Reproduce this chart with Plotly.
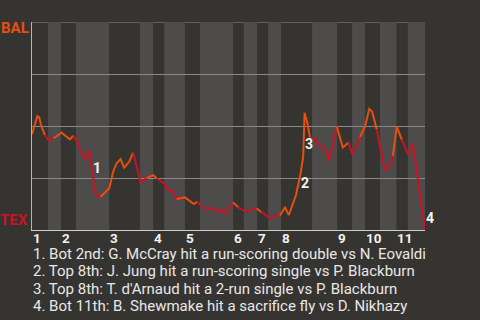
import plotly.graph_objects as go

# ---- data ----
play_x = [0, 1.5, 2.0, 2.6, 3.6, 4.8, 6.0, 8.3, 10.6, 11.6, 12.5, 13.9, 15.0, 16.0, 16.7,
          17.9, 19.2, 21.6, 22.8, 23.7, 24.8, 25.8, 27.2, 28.3, 30.4, 32.1, 33.9, 34.9,
          37.2, 38.2, 39.4, 40.5, 42.8, 44.2, 45.3, 46.3, 48.1, 50.7, 51.9, 52.9, 54.1,
          56.2, 57.7, 59.6, 62.9, 64.1, 66.6, 69.4, 70.8, 71.9, 73.9, 75.2, 75.9, 76.3,
          77.1, 77.8, 79.6, 80.8, 81.9, 83.1, 85.3, 87.0, 88.6, 89.7, 91.8, 93.2, 94.4,
          95.2, 96.5, 98.7, 99.9, 101.0, 102.1, 103.5, 105.3, 106.6, 107.8, 110.0]
bal_wp = [46.0, 54.8, 54.2, 50.0, 45.7, 42.8, 44.1, 46.8, 43.6, 45.3, 42.9, 36.9, 34.1, 38.5,
          30.4, 16.3, 16.0, 20.0, 28.5, 32.1, 34.1, 30.0, 32.8, 37.2, 22.9, 24.9, 26.4, 24.9,
          22.0, 18.9, 18.9, 14.9, 15.7, 13.9, 12.5, 13.6, 10.4, 10.3, 8.4, 10.0, 7.7,
          13.2, 11.1, 8.8, 10.5, 8.7, 5.8, 7.0, 10.8, 7.2, 16.8, 27.4, 35.2, 56.4,
          51.2, 44.5, 43.3, 39.6, 39.4, 33.2, 49.8, 39.7, 42.1, 36.1, 44.7, 49.7, 58.2,
          57.0, 48.3, 29.1, 29.8, 35.6, 49.7, 43.4, 36.1, 41.4, 26.4, 0.0]

# start of each half-inning (top, bottom, top, bottom, ...) and the end of the game
half_starts = [0, 4.5, 8.1, 12.3, 21.6, 30.2, 33.9, 37.0, 42.8, 47.0, 56.3, 59.3,
               63.0, 66.1, 69.7, 78.4, 85.4, 89.6, 93.2, 97.4, 102.0, 105.2]
game_end = 110.0
innings = ["1", "2", "3", "4", "5", "6", "7", "8", "9", "10", "11"]

event_ids = ["1", "2", "3", "4"]
event_x = [18.1, 76.4, 77.5, 110.0]
event_y = [30.0, 22.5, 41.2, 5.6]
event_notes = [
    "1. Bot 2nd: G. McCray hit a run-scoring double vs N. Eovaldi",
    "2. Top 8th: J. Jung hit a run-scoring single vs P. Blackburn",
    "3. Top 8th: T. d'Arnaud hit a 2-run single vs P. Blackburn",
    "4. Bot 11th: B. Shewmake hit a sacrifice fly vs D. Nikhazy",
]
team_top, team_bottom = "BAL", "TEX"

# ---- style ----
BG = "#363431"
BAND = "#4e4c4a"
ORANGE = "#E4510F"
RED = "#CB1224"
GRID = "#8a8988"
event_shift = [0, 0, 0, 0]

fig = go.Figure()

bounds = half_starts + [game_end]
for i in range(len(half_starts)):
    s, e = bounds[i], bounds[i + 1]
    xs, ys = [], []
    prev = None
    for x, y in zip(play_x, bal_wp):
        if x < s:
            prev = (x, y)
        elif x <= e:
            xs.append(x)
            ys.append(y)
    if prev is not None:
        xs.insert(0, prev[0])
        ys.insert(0, prev[1])
    color = ORANGE if i % 2 == 0 else RED
    fig.add_trace(go.Scatter(x=xs, y=ys, mode="lines",
                             line=dict(color=color, width=2),
                             hoverinfo="skip", showlegend=False))

shapes = []
for i in range(1, len(half_starts), 2):
    shapes.append(dict(type="rect", xref="x", yref="y", x0=bounds[i], x1=bounds[i + 1],
                       y0=0, y1=100, fillcolor=BAND, line=dict(width=0), layer="below"))
# top gridline (100%)
shapes.append(dict(type="line", xref="paper", yref="y", x0=0, x1=1, y0=100, y1=100,
                   line=dict(color=GRID, width=1), layer="below"))

annotations = []
for k, (lab, xv, yv, sh) in enumerate(zip(event_ids, event_x, event_y, event_shift)):
    last = k == len(event_ids) - 1
    annotations.append(dict(x=xv, y=yv, xref="x", yref="y", text=lab, showarrow=False,
                            xshift=sh, xanchor="left" if last else "center", borderpad=0,
                            font=dict(family="Roboto", size=14, color="#f2f2f2", weight="bold")))

for k, lab in enumerate(innings):
    annotations.append(dict(x=half_starts[2 * k], y=(230 - 237.5) / 208, xref="x", yref="paper",
                            text=lab, showarrow=False, xanchor="left", yanchor="middle",
                            borderpad=0,
                            font=dict(family="Roboto", size=13.5, color="#f2f2f2", weight="bold")))

annotations.append(dict(x=0, y=1, xref="paper", yref="paper", text=team_top, showarrow=False,
                        xanchor="right", yanchor="middle", xshift=-2, yshift=-6, borderpad=0,
                        font=dict(family="Roboto", size=15, color=ORANGE, weight="bold")))
annotations.append(dict(x=0, y=0, xref="paper", yref="paper", text=team_bottom, showarrow=False,
                        xanchor="right", yanchor="middle", xshift=-3, yshift=10, borderpad=0,
                        font=dict(family="Roboto", size=15, color=RED, weight="bold")))

line_px = [253.8, 271.3, 288.8, 306.3]
for txt, py in zip(event_notes, line_px):
    annotations.append(dict(x=0, y=(230 - py) / 208, xref="paper", yref="paper", text=txt,
                            showarrow=False, xanchor="left", yanchor="middle", borderpad=0,
                            font=dict(family="Roboto", size=15, color="#e8e8e8")))

fig.update_layout(
    width=480, height=320,
    margin=dict(l=32, r=55, t=22, b=90),
    paper_bgcolor=BG, plot_bgcolor=BG,
    shapes=shapes, annotations=annotations,
    xaxis=dict(range=[0, game_end], showgrid=False, zeroline=False, showticklabels=False,
               ticks="", showline=True, linecolor="#cfcfcf", linewidth=1, fixedrange=True),
    yaxis=dict(range=[0, 100], tickvals=[0, 25, 50, 75, 100], showgrid=True, gridcolor=GRID,
               gridwidth=1, zeroline=False, showticklabels=False, ticks="",
               showline=True, linecolor="#b5b5b5", linewidth=1, fixedrange=True),
)

fig.write_html("out.html", config={"displayModeBar": False})
